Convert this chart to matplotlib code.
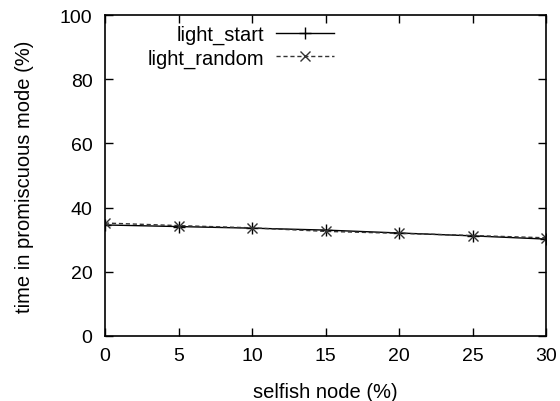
import matplotlib
matplotlib.use('Agg')
import matplotlib.pyplot as plt

# data
selfish = [0, 5, 10, 15, 20, 25, 30]
light_start = [34.6, 34.1, 33.6, 33.0, 32.1, 31.2, 30.2]
light_random = [35.2, 34.4, 33.7, 32.6, 32.0, 31.3, 30.6]
y_ticks = [0, 20, 40, 60, 80, 100]

plt.rcParams['font.family'] = ['Liberation Sans', 'DejaVu Sans']

fig = plt.figure(figsize=(5.6, 4.02), dpi=100)
ax = fig.add_axes([0.1875, 0.1617, 0.7875, 0.7983])

ax.plot(selfish, light_start, color='black', linewidth=1.0, linestyle='-',
        marker='+', markersize=9, markeredgewidth=1.0, label='light_start')
ax.plot(selfish, light_random, color='#333333', linewidth=1.0, linestyle=(0, (3, 2)),
        marker='x', markersize=7, markeredgewidth=1.0, label='light_random')

ax.set_xlim(0, 30)
ax.set_ylim(0, 100)
ax.set_xticks(selfish)
ax.set_yticks(y_ticks)
ax.tick_params(direction='in', length=6, width=1.0, top=True, right=True,
               labelsize=14)
ax.tick_params(axis='x', pad=8)
ax.tick_params(axis='y', pad=9)
for s in ax.spines.values():
    s.set_linewidth(1.2)

ax.set_xlabel('selfish node (%)', fontsize=14.5, labelpad=13)
ax.set_ylabel('time in promiscuous mode (%)', fontsize=14.5)
ax.yaxis.set_label_coords(-0.16, 0.5)

leg = ax.legend(loc='upper right', bbox_to_anchor=(0.543, 1.0), frameon=False,
                markerfirst=False, fontsize=14.5, handlelength=2.9,
                handletextpad=0.6, labelspacing=0.2, borderaxespad=0.3,
                borderpad=0.2)

fig.savefig('out.png', dpi=100)
